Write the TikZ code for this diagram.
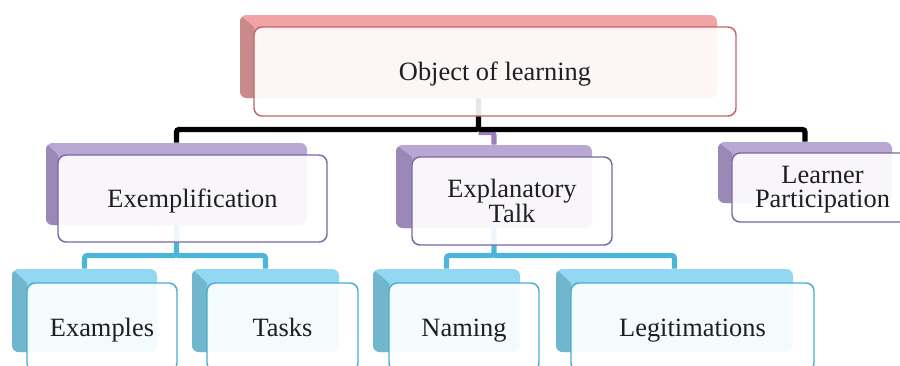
\documentclass[tikz,border=0pt]{standalone}
\usepackage{fontspec}
\setmainfont{Liberation Serif}
\usetikzlibrary{fit}
\pgfdeclarelayer{bg}
\pgfsetlayers{bg,main}
\definecolor{pinkL}{HTML}{F2A3A6}
\definecolor{pinkD}{HTML}{C98A8C}
\definecolor{pinkB}{HTML}{C2646C}
\definecolor{purpL}{HTML}{B9A7D3}
\definecolor{purpD}{HTML}{9C88B7}
\definecolor{purpB}{HTML}{7C67A4}
\definecolor{blueL}{HTML}{93D8F2}
\definecolor{blueD}{HTML}{72B6CE}
\definecolor{blueB}{HTML}{4AAECC}
\definecolor{txt}{HTML}{1F1F1F}
\definecolor{purconncol}{HTML}{9B7FC0}
\definecolor{bluconncol}{HTML}{4DB6D8}
\tikzset{
  backbox/.style={inner sep=0pt, rounded corners=5, fill=#1L},
  frontbox/.style={inner sep=0pt, rounded corners=6, draw=#1B, line width=1.1pt,
    fill=white, fill opacity=0.9, draw opacity=1},
  boxtext/.style={inner sep=0pt, font=\fontsize{19.8pt}{18pt}\selectfont,
    align=center, text=txt},
  oneline/.style={anchor=base, yshift=-7pt},
  blkconn/.style={line width=4pt, draw=black, rounded corners=2},
  purconn/.style={line width=3.8pt, draw=purconncol, rounded corners=2},
  bluconn/.style={line width=3.8pt, draw=bluconncol, rounded corners=2},
}
\newcommand\duobox[8]{%
  \node[backbox=#2, fit={(#3) (#4)}] (#1b) {};
  \begin{scope}
    \clip[rounded corners=5] (#3) rectangle (#4);
    \fill[#2D] (#3) -- (#5) -- (#5 |- #4) -- (#3 |- #4) -- cycle;
  \end{scope}
  \node[frontbox=#2, fit={(#5) (#6)}] (#1f) {};
  \node[boxtext, #8] (#1t) at (#1f.center) {#7};
}
\begin{document}
\begin{tikzpicture}[x=0.75pt,y=-0.75pt]
\useasboundingbox (0,0) rectangle (900,365);
\clip (0,0) rectangle (900,365);
\duobox{obj}{pink}{240,15}{717,98}{254,27}{736,116}{Object of learning}{oneline}
\duobox{ex}{purp}{46,143}{307,225}{58,155}{327,242}{Exemplification}{oneline}
\duobox{et}{purp}{396,145}{592,228}{412,157}{612,245}{Explanatory\\Talk}{}
\duobox{lp}{purp}{718,142}{892,203}{732,153}{913,222}{Learner\\Participation}{yshift=-1.5pt}
\duobox{exa}{blue}{12,269}{157,352}{27,283}{177,371}{Examples}{oneline}
\duobox{tas}{blue}{192,269}{339,352}{207,283}{358,371}{Tasks}{oneline}
\duobox{nam}{blue}{373,269}{520,352}{389,283}{539,371}{Naming}{oneline}
\duobox{leg}{blue}{556,269}{793,352}{571,283}{814,371}{Legitimations}{oneline}
\begin{pgfonlayer}{bg}
  \coordinate (bj) at (0,129.5);
  \coordinate (lj) at (0,255.5);
  \draw[purconn] (objb.south |- 0,132.5) -| (etb.north);
  \draw[blkconn] (objb.south) -- (objb.south |- bj) -| (exb.north);
  \draw[blkconn] (objb.south |- bj) -| (lpb.north);
  \draw[bluconn] (exb.south) -- (exb.south |- lj) -| (exab.north);
  \draw[bluconn] (exb.south |- lj) -| (tasb.north);
  \draw[bluconn] (etb.south) -- (etb.south |- lj) -| (namb.north);
  \draw[bluconn] (etb.south |- lj) -| (legb.north);
\end{pgfonlayer}
\end{tikzpicture}
\end{document}
